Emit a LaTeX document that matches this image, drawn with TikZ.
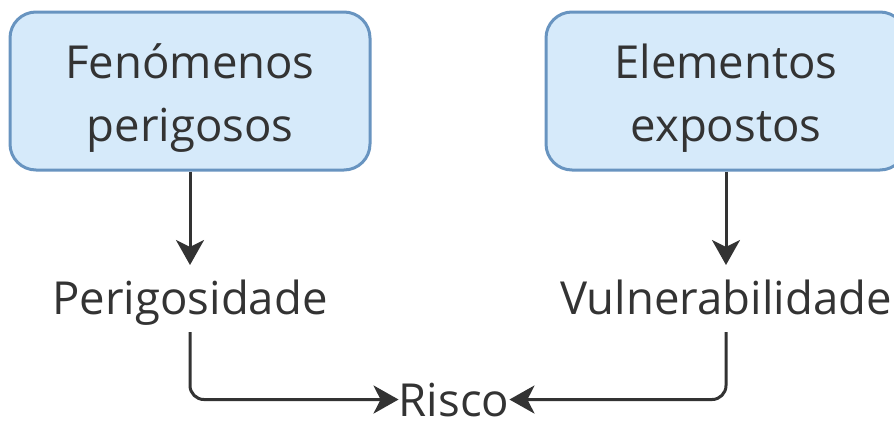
\documentclass[tikz,border=0pt]{standalone}
\usepackage{fontspec}
\setmainfont{Open Sans}
\usetikzlibrary{arrows.meta}
\definecolor{boxfill}{RGB}{214,234,250}
\definecolor{boxline}{RGB}{104,148,192}
\definecolor{ink}{RGB}{51,51,51}
\begin{document}
\begin{tikzpicture}[x=1pt,y=-1pt,
  box/.style={draw=boxline,fill=boxfill,line width=3pt,rounded corners=26pt,
    minimum width=360pt,minimum height=158pt,align=center,
    font=\fontsize{45.5}{63}\selectfont,text=ink},
  lbl/.style={font=\fontsize{45.5}{53}\selectfont,text=ink,inner sep=0pt},
  conn/.style={draw=ink,line width=3pt,rounded corners=14pt,
    -{Stealth[length=25pt,width=28pt,inset=7pt]}}]
\useasboundingbox (0,0) rectangle (894,423);
\node[box] (fen) at (190,91) {};
\node[box] (ele) at (726,91) {};
\node[lbl,anchor=base] (fen1) at (190,78) {Fenómenos};
\node[lbl,anchor=base] (fen2) at (190,141) {perigosos};
\node[lbl,anchor=base] (ele1) at (726,78) {Elementos};
\node[lbl,anchor=base] (ele2) at (726,141) {expostos};
\node[lbl,anchor=base] (per) at (190,314) {Perigosidade};
\node[lbl,anchor=base] (vul) at (726,314) {Vulnerabilidade};
\node[lbl,anchor=base] (ris) at (454,416) {Risco};
\coordinate (pt) at (190,265);
\coordinate (vt) at (726,265);
\draw[conn] (fen.south) -- (pt);
\draw[conn] (ele.south) -- (vt);
\draw[conn] (190,332) |- (ris.west);
\draw[conn] (726,332) |- (ris.east);
\end{tikzpicture}
\end{document}
